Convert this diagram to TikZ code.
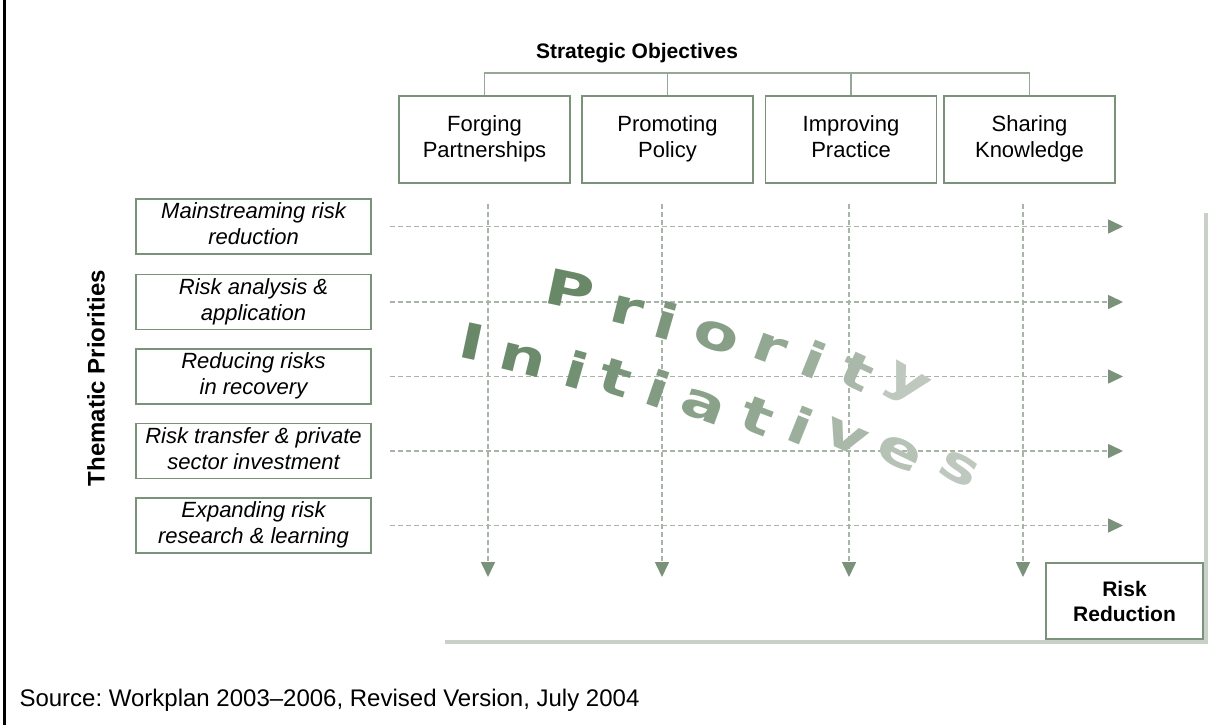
\documentclass[tikz,border=0pt]{standalone}
\usepackage{fontspec}
\setmainfont{Liberation Sans}
\newfontfamily\artfont{DejaVu Sans}
\usetikzlibrary{positioning,arrows.meta}

\definecolor{sagegreen}{RGB}{122,145,122}
\definecolor{dashgrey}{RGB}{168,180,168}
\definecolor{railgrey}{RGB}{200,208,200}
\definecolor{artdark}{RGB}{104,136,104}
\definecolor{artlight}{RGB}{190,200,190}

\newcommand{\wideletter}[1]{\scalebox{1.35}[1]{#1}}

\tikzset{
  objbox/.style={draw=sagegreen, line width=1.6pt, minimum width=171pt, minimum height=87pt, align=center, font=\fontsize{22}{26}\selectfont},
  themebox/.style={draw=sagegreen, line width=1.6pt, minimum width=235pt, minimum height=55pt, align=center, inner sep=1pt, font=\fontsize{22}{26}\selectfont\itshape},
  bracket/.style={draw=sagegreen!80, line width=1.5pt},
  flow/.style={dashgrey, line width=1.6pt, dash pattern=on 5pt off 3pt, -{Triangle[length=15pt,width=14pt,color=sagegreen]}},
  rail/.style={railgrey, line width=4pt},
  artletter/.style={inner sep=0pt, font=\artfont\bfseries\fontsize{49}{49}\selectfont},
}

\begin{document}
\frenchspacing
\begin{tikzpicture}[x=1pt,y=-1pt]
    \useasboundingbox (0,0) rectangle (1231,725);
    \draw[line width=2.5pt] (4.5,0) -- (4.5,725);

    %% Strategic objectives
    \node[font=\fontsize{21}{25}\selectfont\bfseries] (so) at (637,53) {Strategic Objectives};
    \node[objbox] (fp) at (484.5,139.5) {Forging\strut\\Partnerships\strut};
    \node[objbox] (pp) at (667.5,139.5) {Promoting\strut\\Policy\strut};
    \node[objbox] (ip) at (851,139.5) {Improving\strut\\Practice\strut};
    \node[objbox] (sk) at (1029.5,139.5) {Sharing\strut\\Knowledge\strut};

    \coordinate (bar) at (0,73);
    \draw[bracket] (fp.north) -- (fp.north |- bar) -- (sk.north |- bar) -- (sk.north);
    \draw[bracket] (pp.north) -- (pp.north |- bar);
    \draw[bracket] (ip.north) -- (ip.north |- bar);

    %% Thematic priorities
    \node[font=\fontsize{24}{28}\selectfont\bfseries, rotate=90] (tp) at (96,378) {Thematic Priorities};
    \node[themebox] (t1) at (253.5,226.5) {Mainstreaming risk\strut\\reduction\strut};
    \node[themebox] (t2) at (253.5,302) {Risk analysis \&\strut\\application\strut};
    \node[themebox] (t3) at (253.5,376.5) {Reducing risks\strut\\in recovery\strut};
    \node[themebox] (t4) at (253.5,451) {Risk transfer \& private\strut\\sector investment\strut};
    \node[themebox] (t5) at (253.5,525.5) {Expanding risk\strut\\research \& learning\strut};

    %% Grid of dashed arrows
    \coordinate (rowend) at (1123,0);
    \coordinate (colend) at (0,577);
    \foreach \t in {t1,t2,t3,t4,t5}
        \draw[flow] ([xshift=18pt]\t.east) -- (\t.east -| rowend);
    \draw[flow] ([xshift=3.5pt,yshift=-20pt]fp.south) -- ([xshift=3.5pt]fp.south |- colend);
    \draw[flow] ([xshift=-5.5pt,yshift=-20pt]pp.south) -- ([xshift=-5.5pt]pp.south |- colend);
    \draw[flow] ([xshift=-2pt,yshift=-20pt]ip.south) -- ([xshift=-2pt]ip.south |- colend);
    \draw[flow] ([xshift=-6.5pt,yshift=-20pt]sk.south) -- ([xshift=-6.5pt]sk.south |- colend);

    %% Outcome corner
    \coordinate (railtop) at (1206,213);
    \coordinate (railcorner) at (1206,642);
    \coordinate (railend) at (445,642);
    \draw[rail] (railtop) -- (railcorner) -- (railend);
    \node[draw=sagegreen, line width=1.6pt, fill=white, minimum width=157pt, minimum height=76pt, align=center, font=\fontsize{21}{25}\selectfont\bfseries] (rr) at (1124.5,601) {Risk\\Reduction};

    %% Word art
    \foreach \ch/\px/\py/\ang/\mix [count=\k] in {
        P/570/290/-12/0, r/627/311/-14/12, i/667/321/-16/24, o/716/337/-18/36,
        r/770/349/-20/50, i/814/359/-22/62, t/857/372/-25/75, y/905/386/-30/100}
        \node[artletter, text=artlight!\mix!artdark, rotate=\ang] (pri\k) at (\px,\py) {\wideletter{\ch}};
    \foreach \ch/\px/\py/\ang/\mix [count=\k] in {
        I/472/342/-12/0, n/523/360/-14/5, i/577/370/-16/12, t/616/378/-17/20,
        i/658/389/-19/30, a/703/407/-20/40, t/757/416/-21/50, i/801/425/-22/60,
        v/846/437/-24/75, e/900/453/-26/90, s/959/469/-28/100}
        \node[artletter, text=artlight!\mix!artdark, rotate=\ang] (ini\k) at (\px,\py) {\wideletter{\ch}};

    \node[anchor=west, font=\fontsize{24}{28}\selectfont] (src) at (16,700) {Source: Workplan 2003--2006, Revised Version, July 2004};
\end{tikzpicture}
\end{document}
